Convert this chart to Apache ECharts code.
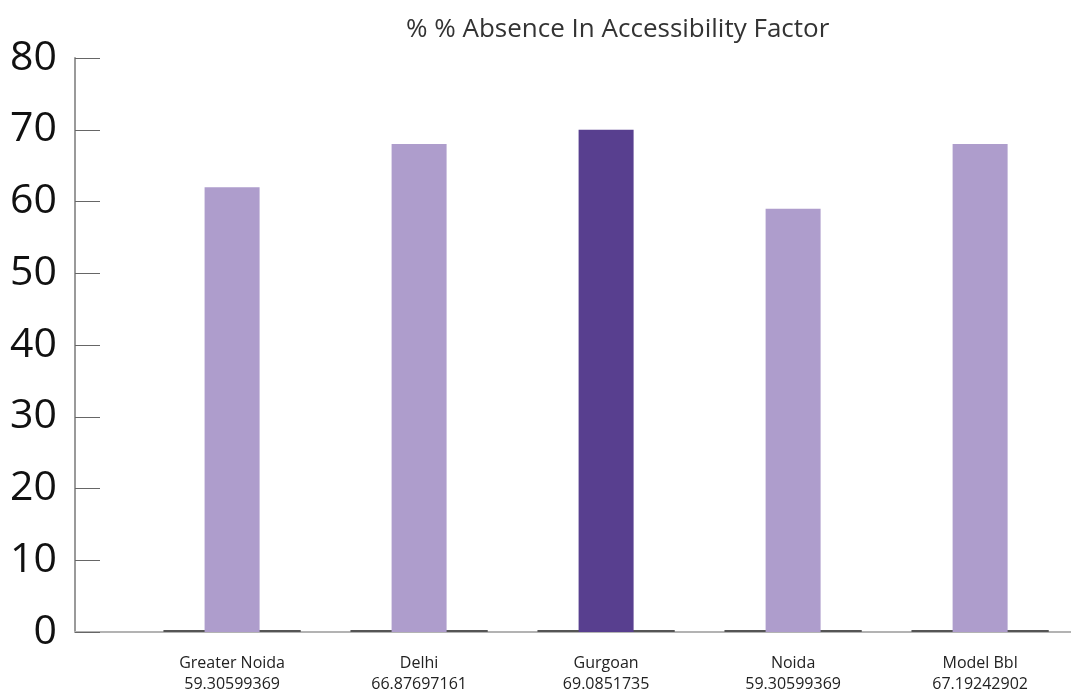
<!DOCTYPE html>
<html>
<head>
<meta charset="utf-8">
<script src="https://cdn.jsdelivr.net/npm/echarts@6/dist/echarts.min.js"></script>
<style>
  html, body { margin: 0; padding: 0; background: #fff; }
  #chart-container { width: 1071px; height: 697px; }
</style>
</head>
<body>
<div id="chart-container"></div>
<script>
var places = ['Greater Noida', 'Delhi', 'Gurgoan', 'Noida', 'Model Bbl'];
var placeScores = ['59.30599369', '66.87697161', '69.0851735', '59.30599369', '67.19242902'];
var absence = [62, 68, 70, 59, 68];
var zeroLeft = [0, 0, 0, 0, 0];
var zeroRight = [0, 0, 0, 0, 0];
var yTicks = [0, 10, 20, 30, 40, 50, 60, 70, 80];

var chartDom = document.getElementById('chart-container');
var myChart = echarts.init(chartDom);
var option;

var light = '#ae9dcc';
var dark = '#583f8f';

var mainData = absence.map(function (v, i) {
  return {
    value: [i, v],
    itemStyle: { color: i === 2 ? dark : light }
  };
});
var leftData = zeroLeft.map(function (v, i) { return [i - 0.22, v]; });
var rightData = zeroRight.map(function (v, i) { return [i + 0.22, v]; });

option = {
  animation: false,
  title: {
    text: '% % Absence In Accessibility Factor',
    left: 401,
    top: 12,
    textStyle: {
      fontFamily: 'Open Sans',
      fontSize: 26,
      fontWeight: 'normal',
      color: '#333'
    }
  },
  grid: {
    left: 75,
    right: 0,
    top: 58,
    bottom: 65,
    containLabel: false
  },
  xAxis: {
    type: 'value',
    min: -0.84,
    max: 4.486,
    axisLine: { show: true, lineStyle: { color: '#b3b3b3', width: 2 } },
    axisTick: { show: false },
    splitLine: { show: false },
    axisLabel: {
      customValues: [0, 1, 2, 3, 4],
      margin: 21,
      fontFamily: 'Open Sans',
      fontSize: 16,
      lineHeight: 21,
      color: '#222',
      formatter: function (v) {
        var i = Math.round(v);
        return places[i] + '\n' + placeScores[i];
      }
    }
  },
  yAxis: {
    type: 'value',
    min: yTicks[0],
    max: yTicks[yTicks.length - 1],
    interval: 10,
    axisLine: { show: true, onZero: false, lineStyle: { color: '#9a9a9a', width: 2 } },
    axisTick: { show: true, inside: true, length: 25, lineStyle: { color: '#666', width: 1 } },
    splitLine: { show: false },
    axisLabel: {
      margin: 18,
      fontFamily: 'Open Sans',
      fontSize: 41,
      color: '#111'
    }
  },
  series: [
    {
      type: 'bar',
      data: leftData,
      barWidth: 55,
      barMinHeight: 2,
      itemStyle: { color: '#555' },
      z: 1
    },
    {
      type: 'bar',
      data: rightData,
      barWidth: 55,
      barMinHeight: 2,
      itemStyle: { color: '#555' },
      z: 1
    },
    {
      type: 'bar',
      data: mainData,
      barWidth: 55,
      barGap: '-100%',
      z: 3
    }
  ]
};

option && myChart.setOption(option);
</script>
</body>
</html>
